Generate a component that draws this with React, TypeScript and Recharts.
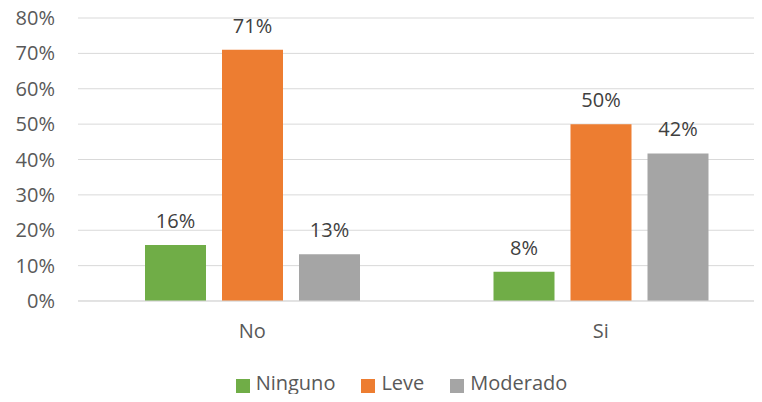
import React from 'react';
import {
  BarChart,
  Bar,
  XAxis,
  YAxis,
  CartesianGrid,
  Legend,
  LabelList,
} from 'recharts';

const categories = ['No', 'Si'];
const ninguno = [0.158, 0.083];
const leve = [0.71, 0.5];
const moderado = [0.132, 0.417];
const yTicks = [0, 0.1, 0.2, 0.3, 0.4, 0.5, 0.6, 0.7, 0.8];

const series = [
  { key: 'ninguno', name: 'Ninguno', color: '#70AD47' },
  { key: 'leve', name: 'Leve', color: '#ED7D31' },
  { key: 'moderado', name: 'Moderado', color: '#A5A5A5' },
];

const data = categories.map((cat, i) => ({
  cat,
  ninguno: ninguno[i],
  leve: leve[i],
  moderado: moderado[i],
}));

const pct = (v: any) => `${Math.round(Number(v) * 100)}%`;
const font = '"Open Sans", sans-serif';

export default function App() {
  return (
    <div
      style={{
        margin: -8,
        width: 762,
        height: 402,
        overflow: 'hidden',
        position: 'relative',
        background: '#fff',
        fontFamily: font,
      }}
    >
      <BarChart
        width={790}
        height={402}
        data={data}
        margin={{ top: 18, right: 15, left: 0, bottom: 41 }}
        barSize={61}
        barGap={16}
      >
        <CartesianGrid vertical={false} stroke="#D9D9D9" />
        <XAxis
          dataKey="cat"
          axisLine={{ stroke: '#D9D9D9' }}
          tickLine={false}
          height={60}
          tickMargin={17}
          tick={{ fill: '#595959', fontSize: 20, fontFamily: font }}
        />
        <YAxis
          width={78}
          domain={[0, 0.8]}
          ticks={yTicks}
          tickFormatter={pct}
          axisLine={false}
          tickLine={false}
          tickMargin={17}
          tick={{ fill: '#595959', fontSize: 20, fontFamily: font }}
        />
        <Legend
          layout="horizontal"
          verticalAlign="middle"
          align="center"
          iconType="square"
          iconSize={14}
          itemSorter={(item: any) => series.findIndex((s) => s.name === item.value)}
          wrapperStyle={{ top: 369, left: 10, width: 809, height: 32 }}
          formatter={(value: string) => (
            <span style={{ color: '#595959', fontSize: 20, marginRight: 16, marginLeft: 2, fontFamily: font }}>
              {value}
            </span>
          )}
        />
        {series.map((s) => (
          <Bar key={s.key} dataKey={s.key} name={s.name} fill={s.color} isAnimationActive={false}>
            <LabelList
              dataKey={s.key}
              position="top"
              offset={17}
              formatter={pct}
              fill="#404040"
              fontSize={20}
              fontFamily={font}
            />
          </Bar>
        ))}
      </BarChart>
    </div>
  );
}
